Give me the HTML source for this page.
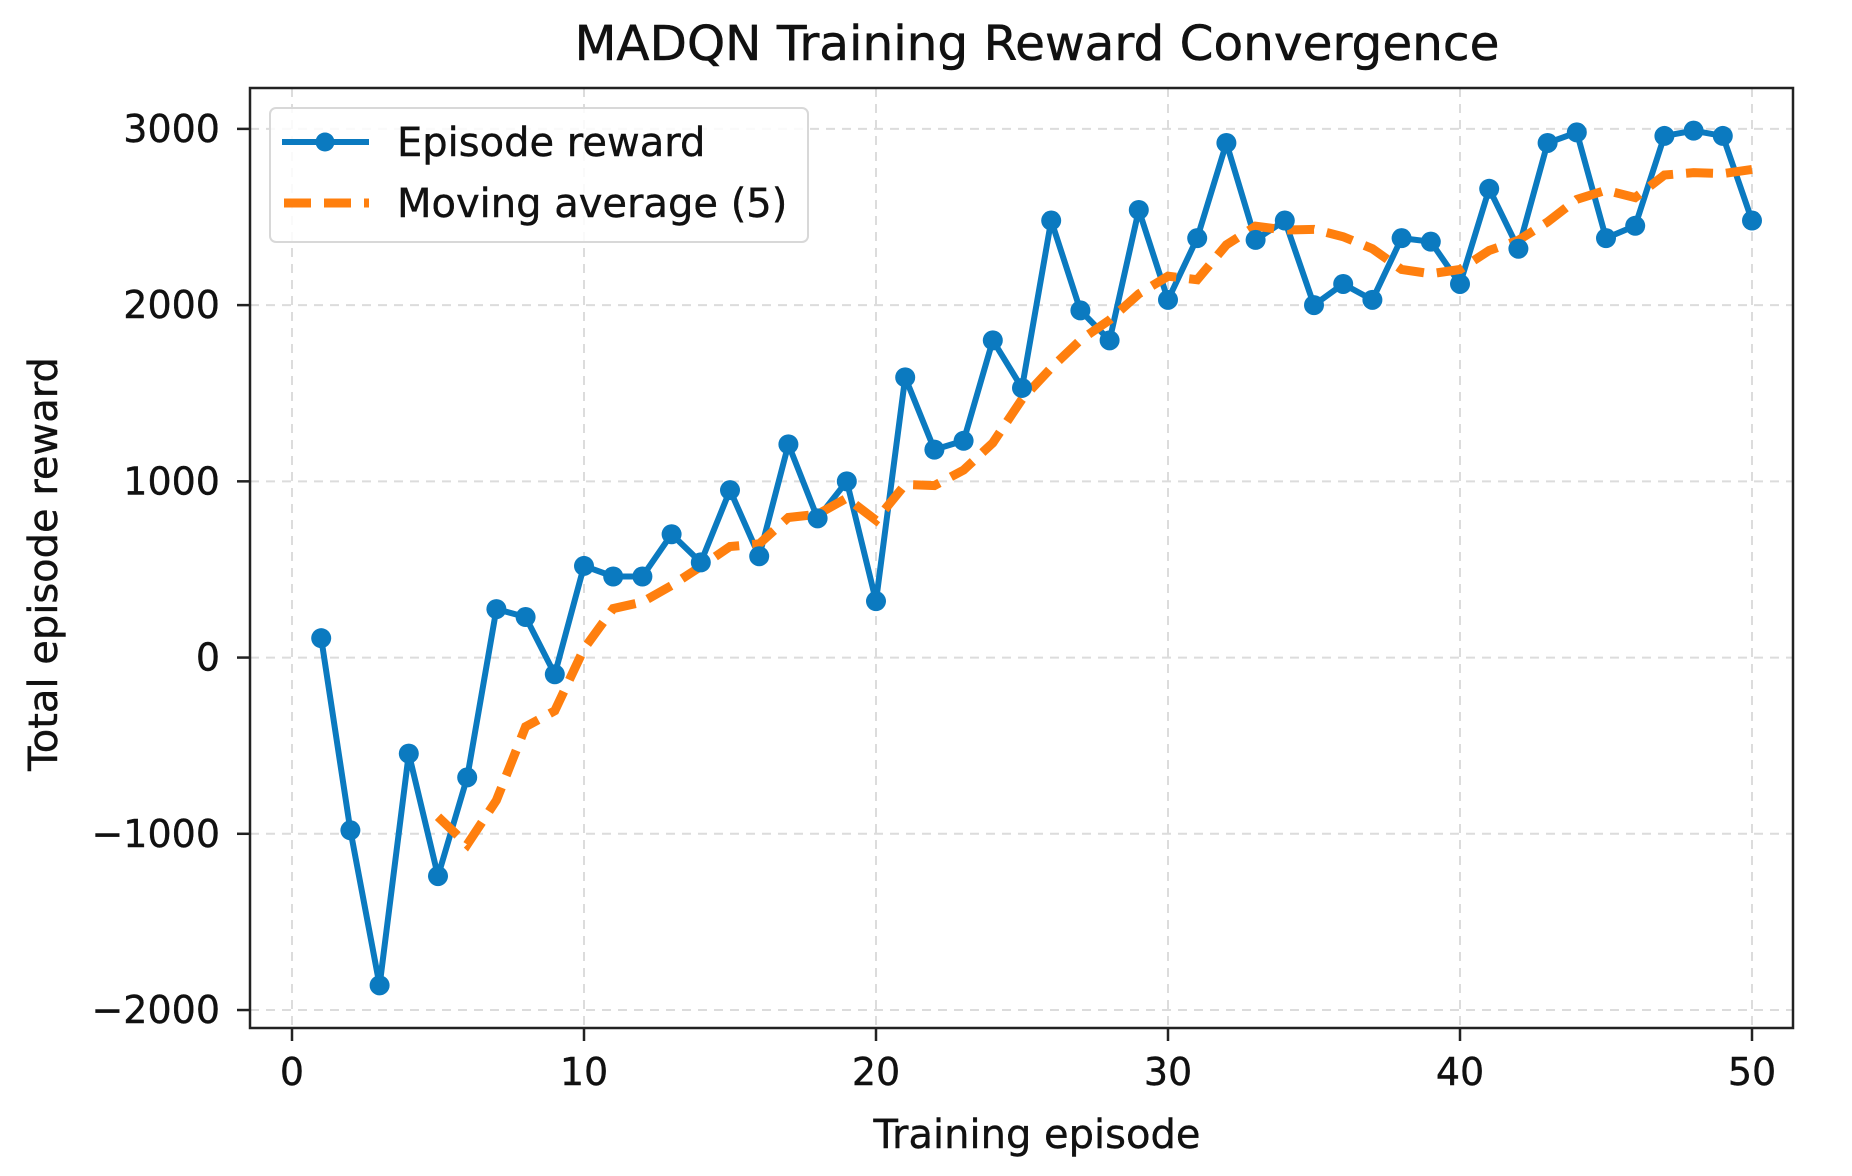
<!DOCTYPE html>
<html><head><meta charset="utf-8"><style>
html,body{margin:0;padding:0;background:#fff;}
svg{display:block;font-family:"DejaVu Sans","Liberation Sans",sans-serif;}
</style></head><body>
<svg id="chart" width="1852" height="1176" viewBox="0 0 1852 1176" xmlns="http://www.w3.org/2000/svg">
<rect width="1852" height="1176" fill="#fff"/>
<text x="1037" y="60" text-anchor="middle" font-size="48.5" fill="#111" stroke="#111" stroke-width="0.5">MADQN Training Reward Convergence</text>
<g id="grid"></g>
<g id="ticks"></g>
<g id="series"></g>
<rect x="250" y="88" width="1543" height="940" fill="none" stroke="#222" stroke-width="2.5"/>
<text x="1037" y="1148" text-anchor="middle" font-size="40" fill="#111" stroke="#111" stroke-width="0.4">Training episode</text>
<text transform="translate(57,564) rotate(-90)" text-anchor="middle" font-size="40" fill="#111" stroke="#111" stroke-width="0.4">Total episode reward</text>
<g>
<rect x="270" y="108" width="538" height="134" rx="6" fill="#fff" fill-opacity="0.85" stroke="#d8d8d8" stroke-width="2"/>
<line x1="282" y1="142" x2="369" y2="142" stroke="#0b7ac0" stroke-width="6"/>
<circle cx="325" cy="142" r="9.5" fill="#0b7ac0"/>
<text x="397" y="156" font-size="40" fill="#111" stroke="#111" stroke-width="0.4">Episode reward</text>
<line x1="284" y1="203" x2="369" y2="203" stroke="#ff7f0e" stroke-width="9" stroke-dasharray="27,13"/>
<text x="397" y="217" font-size="40" fill="#111" stroke="#111" stroke-width="0.4">Moving average (5)</text>
</g>
</svg>
<script>
const episodes = [1,2,3,4,5,6,7,8,9,10,11,12,13,14,15,16,17,18,19,20,21,22,23,24,25,26,27,28,29,30,31,32,33,34,35,36,37,38,39,40,41,42,43,44,45,46,47,48,49,50];
const rewards = [110,-980,-1860,-545,-1240,-680,275,230,-95,520,460,460,700,540,950,575,1210,790,1000,320,1590,1180,1230,1800,1530,2480,1970,1800,2540,2030,2380,2920,2370,2480,2000,2120,2030,2380,2360,2120,2660,2320,2920,2980,2380,2450,2960,2990,2960,2480];
const maEpisodes = [5,6,7,8,9,10,11,12,13,14,15,16,17,18,19,20,21,22,23,24,25,26,27,28,29,30,31,32,33,34,35,36,37,38,39,40,41,42,43,44,45,46,47,48,49,50];
const movingAvg = [-903,-1061,-810,-392,-302,50,278,315,409,517,630,645,795,813,905,779,982,976,1064,1218,1466,1644,1802,1916,2064,2164,2144,2342,2448,2426,2430,2388,2320,2202,2178,2202,2310,2368,2472,2600,2652,2610,2738,2752,2746,2770];
const xTicks = [0,10,20,30,40,50];
const yTicks = [-2000,-1000,0,1000,2000,3000];
const xTickLabels = ["0","10","20","30","40","50"];
const yTickLabels = ["\u22122000","\u22121000","0","1000","2000","3000"];

const PL=250, PR=1793, PT=88, PB=1028;
const yMin=-2102, yMax=3232;
function xs(v){return 292+v*29.2;}
function ys(v){return PB-(v-yMin)/(yMax-yMin)*(PB-PT);}
const NS="http://www.w3.org/2000/svg";
function mk(tag,attrs,parent){const e=document.createElementNS(NS,tag);for(const k in attrs)e.setAttribute(k,attrs[k]);parent.appendChild(e);return e;}
const grid=document.getElementById('grid'), ticks=document.getElementById('ticks'), series=document.getElementById('series');

xTicks.forEach((t,i)=>{
  const x=xs(t);
  const g=mk('line',{x1:x,y1:PT,x2:x,y2:PB,stroke:'#dcdcdc','stroke-width':2,'stroke-dasharray':'9,7'},grid);
  
  
  const tk=mk('line',{x1:x,y1:PB,x2:x,y2:PB+13,stroke:'#222','stroke-width':2.5},ticks);
  
  
  const lb=mk('text',{x:x,y:PB+57,'text-anchor':'middle','font-size':38,fill:'#111',stroke:'#111','stroke-width':0.4},ticks);
  lb.textContent=xTickLabels[i];
  
  
});
yTicks.forEach((t,i)=>{
  const y=ys(t);
  const g=mk('line',{x1:PL,y1:y,x2:PR,y2:y,stroke:'#dcdcdc','stroke-width':2,'stroke-dasharray':'9,7'},grid);
  
  
  const tk=mk('line',{x1:PL-13,y1:y,x2:PL,y2:y,stroke:'#222','stroke-width':2.5},ticks);
  
  
  const lb=mk('text',{x:PL-30,y:y+13,'text-anchor':'end','font-size':38,fill:'#111',stroke:'#111','stroke-width':0.4},ticks);
  lb.textContent=yTickLabels[i];
  
  
});

const rPts=episodes.map((e,i)=>xs(e)+','+ys(rewards[i])).join(' ');
const rl=mk('polyline',{points:rPts,fill:'none',stroke:'#0b7ac0','stroke-width':6,'stroke-linejoin':'round'},series);


const mPts=maEpisodes.map((e,i)=>xs(e)+','+ys(movingAvg[i])).join(' ');
const ml=mk('polyline',{points:mPts,fill:'none',stroke:'#ff7f0e','stroke-width':9,'stroke-dasharray':'27,13'},series);


episodes.forEach((e,i)=>{
  const c=mk('circle',{cx:xs(e),cy:ys(rewards[i]),r:10,fill:'#0b7ac0'},series);
  
  
});
</script>
</body></html>
